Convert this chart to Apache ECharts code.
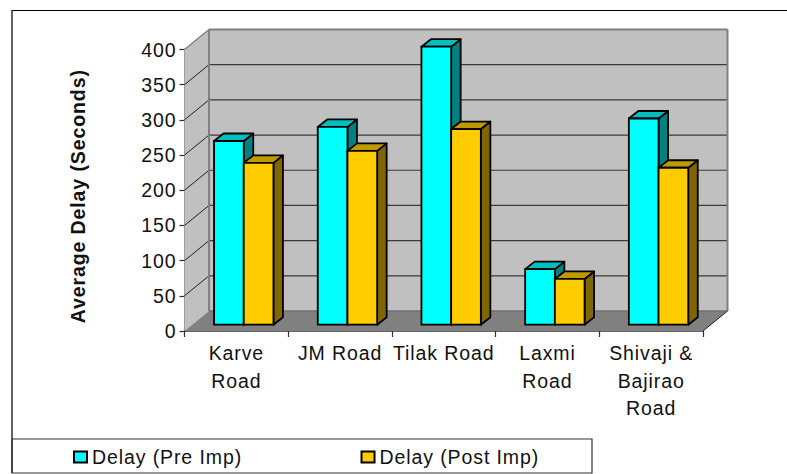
<!DOCTYPE html>
<html><head><meta charset="utf-8">
<style>html,body{margin:0;padding:0;background:#fff}#c{width:787px;height:474px}svg text{letter-spacing:.9px}</style>
<script src="https://cdn.jsdelivr.net/npm/echarts@6/dist/echarts.min.js"></script>
</head><body><div id="c"></div>
<script>
const categories = ['Karve\nRoad', 'JM Road', 'Tilak Road', 'Laxmi\nRoad', 'Shivaji &\nBajirao\nRoad'];
const preImp = [261, 281, 395, 79, 293];
const postImp = [230, 247, 278, 65, 223];
const yTicks = [0, 50, 100, 150, 200, 250, 300, 350, 400];
const seriesNames = ['Delay (Pre Imp)', 'Delay (Post Imp)'];
const FONT = '"Liberation Sans", Arial, sans-serif';
const DX = 24.5, DY = -20;      // wall depth
const poly = (points, fill, stroke, lw) => ({type:'polygon', shape:{points}, style:{fill, stroke, lineWidth:lw||0, lineJoin:'round'}});
const line = (a, b, stroke, lw) => ({type:'line', shape:{x1:a[0],y1:a[1],x2:b[0],y2:b[1]}, style:{stroke, lineWidth:lw}});

function renderWalls(params, api) {
  const g = params.coordSys, L = g.x, R = g.x + g.width;
  const y0 = api.coord([0, 0])[1], yT = api.coord([0, 400])[1];
  const els = [
    poly([[L+DX,yT+DY],[R+DX,yT+DY],[R+DX,y0+DY],[L+DX,y0+DY]], '#c0c0c0'),
    poly([[L,yT],[L+DX,yT+DY],[L+DX,y0+DY],[L,y0]], '#c0c0c0'),
    poly([[L,y0],[R,y0],[R+DX,y0+DY],[L+DX,y0+DY]], '#808080')
  ];
  yTicks.slice(1, -1).forEach(v => {
    const y = api.coord([0, v])[1];
    els.push(line([L,y],[L+DX,y+DY],'#202020',1));
    els.push(line([L+DX,y+DY],[R+DX,y+DY],'#3a3a3a',1.2));
  });
  els.push(line([L,yT],[L+DX,yT+DY],'#808080',1.5));
  els.push(line([L+DX,yT+DY],[R+DX,yT+DY],'#808080',2));
  els.push(line([L+DX,yT+DY],[L+DX,y0+DY],'#808080',2));
  els.push(line([R+DX,yT+DY],[R+DX,y0+DY],'#808080',2));
  els.push(line([L+DX,y0+DY],[R+DX,y0+DY],'#707070',1.5));
  els.push(line([R,y0],[R+DX,y0+DY],'#202020',1));
  return {type:'group', children:els};
}

function bar3d(sign, front, top, side) {
  return function (params, api) {
    const i = api.value(0), v = api.value(1);
    const band = api.size([1, 0])[0];
    const w = band * 0.2864, shiftX = band * 0.0714, shiftY = -6.3, dx = 9.5, dy = -7.5;
    const c = api.coord([i, v]), b = api.coord([i, 0]);
    const x0 = c[0] + shiftX + (sign < 0 ? -w : 0), x1 = x0 + w;
    const yt = c[1] + shiftY, yb = b[1] + shiftY;
    return {type:'group', children:[
      poly([[x1,yt],[x1+dx,yt+dy],[x1+dx,yb+dy],[x1,yb]], side, '#000', 1.8),
      poly([[x0,yt],[x0+dx,yt+dy],[x1+dx,yt+dy],[x1,yt]], top, '#000', 1.8),
      {type:'rect', shape:{x:x0,y:yt,width:w,height:yb-yt}, style:{fill:front, stroke:'#000', lineWidth:1.8}}
    ]};
  };
}

const chart = echarts.init(document.getElementById('c'), null, {renderer:'svg'});
chart.setOption({
  animation:false,
  backgroundColor:'#fff',
  textStyle:{fontFamily:FONT},
  grid:{left:184.5, top:49.5, width:518.5, height:281.5, containLabel:false},
  xAxis:{type:'category', data:categories,
    axisLine:{lineStyle:{color:'#303030', width:1.5}},
    axisTick:{show:true, length:6, lineStyle:{color:'#303030', width:1.2}},
    axisLabel:{interval:0, color:'#111', fontSize:19.5, lineHeight:27.5, margin:8.5, fontFamily:FONT, hideOverlap:false},
    splitLine:{show:false}},
  yAxis:{type:'value', min:0, max:400, interval:50,
    name:'Average Delay (Seconds)', nameLocation:'middle', nameGap:97, nameRotate:90,
    nameTextStyle:{color:'#111', fontSize:19.5, fontWeight:'bold', fontFamily:FONT, padding:[0,12,0,0]},
    axisLine:{show:true, lineStyle:{color:'#505050', width:1.5}},
    axisTick:{show:true, length:5, lineStyle:{color:'#303030', width:1.2}},
    axisLabel:{color:'#111', fontSize:19.5, margin:8, fontFamily:FONT},
    splitLine:{show:false}},
  legend:{left:73, top:447, padding:0, itemWidth:13, itemHeight:11, itemGap:132, icon:'rect',
    textStyle:{color:'#111', fontSize:19.5, fontFamily:FONT}, data:seriesNames},
  graphic:[
    {type:'line', shape:{x1:12,y1:10.5,x2:787,y2:10.5}, style:{stroke:'#000',lineWidth:1.2}, silent:true},
    {type:'line', shape:{x1:12,y1:10,x2:12,y2:473}, style:{stroke:'#222',lineWidth:1.4}, silent:true},
    {type:'rect', shape:{x:12,y:439,width:580,height:34}, style:{fill:'none',stroke:'#333',lineWidth:1.2}, silent:true}
  ],
  series:[
    {type:'custom', name:'walls', silent:true, z:1, renderItem:renderWalls, data:[[0,0]], encode:{x:0,y:1}},
    {type:'custom', name:seriesNames[0], z:3, renderItem:bar3d(-1,'#00ffff','#00bfbf','#008080'),
      itemStyle:{color:'#00ffff', borderColor:'#000', borderWidth:1.2},
      data:categories.map((c,i)=>[i, preImp[i]]), encode:{x:0,y:1}},
    {type:'custom', name:seriesNames[1], z:4, renderItem:bar3d(1,'#ffcc00','#bf9900','#806600'),
      itemStyle:{color:'#ffcc00', borderColor:'#000', borderWidth:1.2},
      data:categories.map((c,i)=>[i, postImp[i]]), encode:{x:0,y:1}}
  ]
});
</script></body></html>
